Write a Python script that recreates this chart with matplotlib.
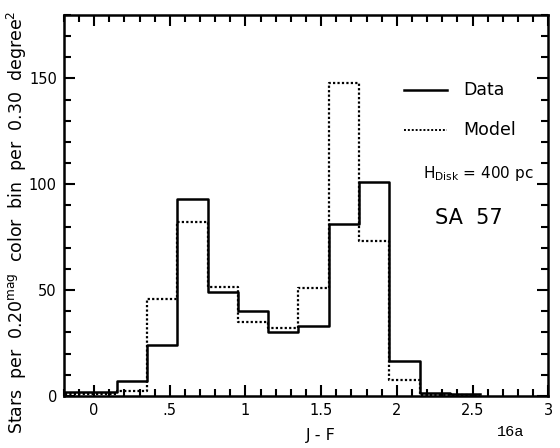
import numpy as np
import matplotlib.pyplot as plt
from matplotlib.ticker import MultipleLocator, FixedLocator

# bin edges in J-F (0.2 mag bins)
edges = [-0.25, -0.05, 0.15, 0.35, 0.55, 0.75, 0.95, 1.15, 1.35, 1.55, 1.75, 1.95, 2.15, 2.35, 2.55]
data = [2, 2, 7, 24, 93, 49, 40, 30, 33, 81, 101, 16.5, 1.5, 1]
model = [1, 1, 2.5, 46, 82, 51.5, 35, 32, 51, 148, 73, 7.5, 0.5, 0.5]

xticks = [0, 0.5, 1, 1.5, 2, 2.5, 3]
xticklabels = ['0', '.5', '1', '1.5', '2', '2.5', '3']
yticks = [0, 50, 100, 150]

fig = plt.figure(figsize=(5.6, 4.48), dpi=100)
ax = fig.add_axes([0.114, 0.116, 0.865, 0.851])

ax.step(edges, data + [data[-1]], where='post', color='black', lw=1.8)
ax.step(edges, model + [model[-1]], where='post', color='black', lw=1.6,
        linestyle=(0, (1, 1.0)))

ax.set_xlim(-0.2, 3.0)
ax.set_ylim(0, 180)
ax.xaxis.set_major_locator(FixedLocator(xticks))
ax.set_xticklabels(xticklabels)
ax.xaxis.set_minor_locator(MultipleLocator(0.1))
ax.set_yticks(yticks)
ax.yaxis.set_minor_locator(MultipleLocator(10))

ax.tick_params(which='both', direction='in', top=True, right=True, width=1.5,
               labelsize=10.5, pad=5)
ax.tick_params(which='major', length=8)
ax.tick_params(which='minor', length=5)
for s in ax.spines.values():
    s.set_linewidth(1.8)

ax.set_xlabel('J - F', fontsize=11.5)
ax.xaxis.set_label_coords(0.53, -0.085)
ax.set_ylabel(r'Stars  per  0.20$^{\mathregular{mag}}$  color  bin  per  0.30  degree$^{\mathregular{2}}$',
              fontsize=12.5)
ax.yaxis.set_label_coords(-0.072, 0.457)

# key and annotations
ax.plot([0.702, 0.791], [0.803, 0.803], color='black', lw=1.8, transform=ax.transAxes)
ax.text(0.824, 0.803, 'Data', transform=ax.transAxes, fontsize=12.5, va='center')
ax.plot([0.702, 0.791], [0.698, 0.698], color='black', lw=1.4, linestyle=(0, (1, 1.0)),
        transform=ax.transAxes)
ax.text(0.824, 0.698, 'Model', transform=ax.transAxes, fontsize=12.5, va='center')
ax.text(0.742, 0.585, r'H$_{\mathregular{Disk}}$ = 400 pc', transform=ax.transAxes,
        fontsize=11, va='center')
ax.text(0.835, 0.467, 'SA  57', transform=ax.transAxes, fontsize=15, va='center', ha='center')

fig.text(0.912, 0.036, '16a', family='Liberation Mono', fontsize=11, ha='center', va='center')

fig.savefig('out.png', dpi=100)
